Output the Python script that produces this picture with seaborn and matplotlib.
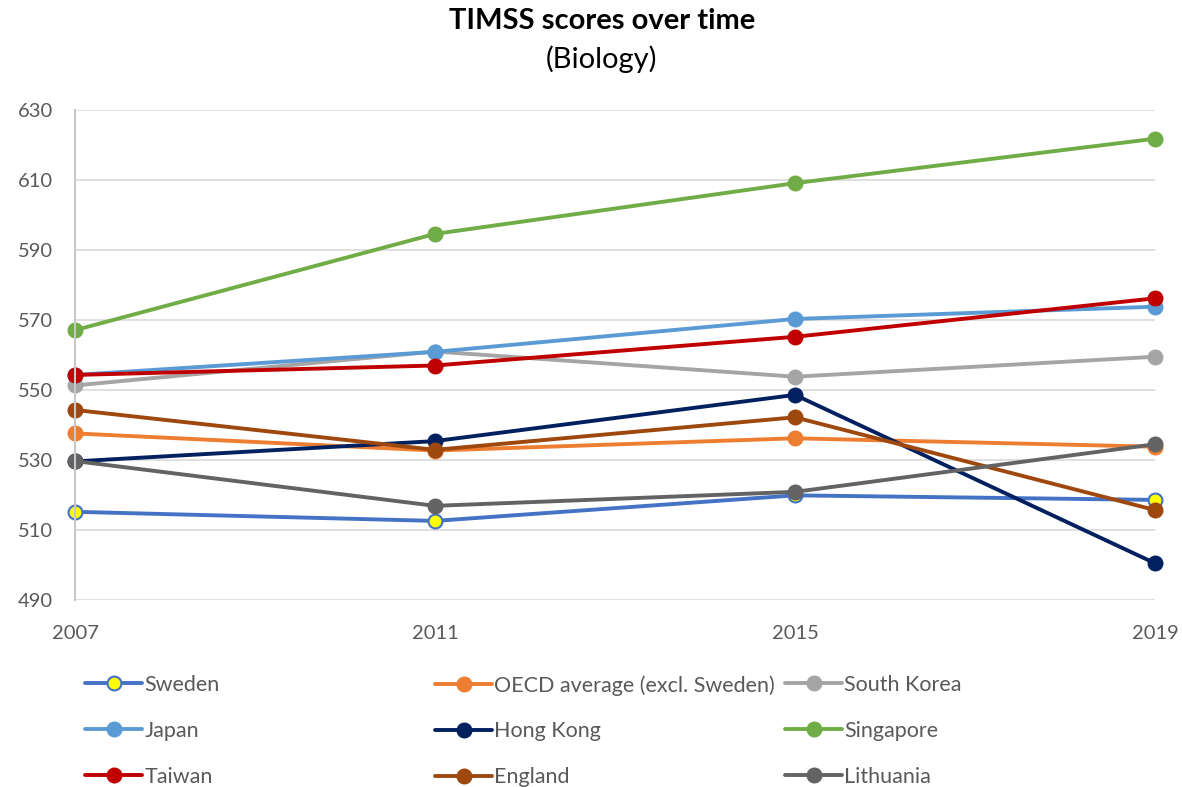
import matplotlib
matplotlib.use("Agg")
import matplotlib.pyplot as plt
import seaborn as sns
import pandas as pd

# TIMSS biology scores
years = [2007, 2011, 2015, 2019]
countries = ["Sweden", "OECD average (excl. Sweden)", "South Korea", "Japan",
             "Hong Kong", "Singapore", "Taiwan", "England", "Lithuania"]
sweden = [515.2, 512.6, 519.9, 518.6]
oecd = [537.6, 532.7, 536.2, 533.8]
south_korea = [551.3, 561.0, 553.8, 559.5]
japan = [554.3, 560.9, 570.3, 573.8]
hong_kong = [529.6, 535.4, 548.6, 500.5]
singapore = [567.1, 594.6, 609.1, 621.8]
taiwan = [554.3, 557.0, 565.2, 576.2]
england = [544.3, 532.9, 542.2, 515.7]
lithuania = [529.7, 516.9, 520.9, 534.5]

scores = [sweden, oecd, south_korea, japan, hong_kong, singapore, taiwan, england, lithuania]
colors = ["#4472C4", "#ED7D31", "#A5A5A5", "#5B9BD5", "#002060",
          "#70AD47", "#C00000", "#9E480E", "#636363"]

df = pd.DataFrame([(c, y, v) for c, vals in zip(countries, scores) for y, v in zip(years, vals)],
                  columns=["country", "year", "score"])

sns.set_style("white")
plt.rcParams["font.family"] = ["Lato", "DejaVu Sans"]

fig = plt.figure(figsize=(11.82, 7.87), dpi=100)
ax = fig.add_axes([75 / 1182, 1 - 600 / 787, (1155 - 75) / 1182, 490 / 787])

for c, col in zip(countries, colors):
    face = "#FFFF00" if c == "Sweden" else col
    sns.lineplot(data=df[df.country == c], x="year", y="score", ax=ax, color=col,
                 linewidth=2.8, marker="o", markersize=10, markerfacecolor=face,
                 markeredgecolor=col, markeredgewidth=1.5, label=c, clip_on=False)

line_handles, line_labels = ax.get_legend_handles_labels()
ax.get_legend().remove()
lookup = dict(zip(line_labels, line_handles))

ax.set_xlim(2007, 2019)
ax.set_ylim(490, 630)
ax.set_xticks(years)
ax.set_yticks(range(490, 631, 20))
ax.set_xlabel("")
ax.set_ylabel("")
ax.grid(axis="y", color="#D9D9D9", linewidth=1.2)
ax.set_axisbelow(True)
for s in ["top", "right", "bottom"]:
    ax.spines[s].set_visible(False)
ax.spines["left"].set_color("#C8C8C8")
ax.spines["left"].set_linewidth(1.5)
ax.tick_params(axis="both", length=0, labelsize=14.5, labelcolor="#595959")
ax.tick_params(axis="x", pad=18)
ax.tick_params(axis="y", pad=16)

fig.text(0.509, 1 - 21 / 787, "TIMSS scores over time", ha="center", va="center",
         fontsize=21, fontweight="bold", color="black")
fig.text(0.509, 1 - 59 / 787, "(Biology)", ha="center", va="center",
         fontsize=21, color="black")

# three legend columns, placed like the reference (rows read left to right)
legend_cols = [["Sweden", "Japan", "Taiwan"],
               ["OECD average (excl. Sweden)", "Hong Kong", "England"],
               ["South Korea", "Singapore", "Lithuania"]]
for x0, names in zip([85, 435, 785], legend_cols):
    leg = fig.legend([lookup[k] for k in names], names, loc="upper left",
                     bbox_to_anchor=(x0 / 1182, 1 - 675 / 787), frameon=False,
                     fontsize=15.5, handlelength=2.65, handletextpad=0.1,
                     labelspacing=1.2, borderaxespad=0, borderpad=0)
    for t in leg.get_texts():
        t.set_color("#595959")

fig.savefig("out.png", dpi=100)
